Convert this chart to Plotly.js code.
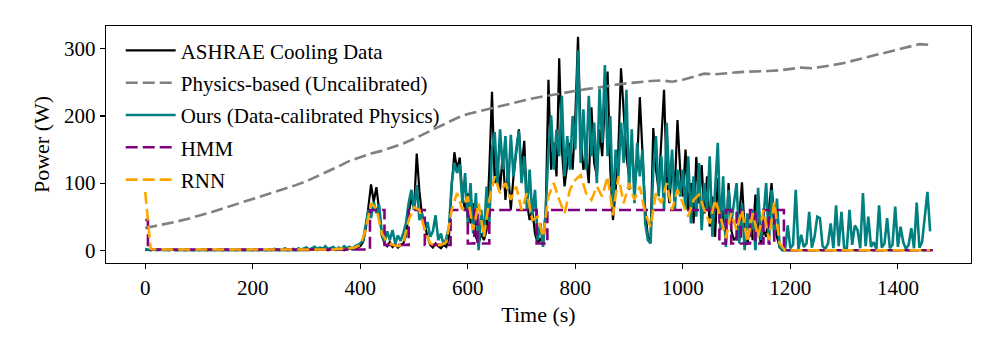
<!DOCTYPE html>
<html>
<head>
<meta charset="utf-8">
<script src="https://cdn.plot.ly/plotly-3.0.1.min.js"></script>
<style>
  html, body { margin: 0; padding: 0; background: #fff; }
  #chart { width: 996px; height: 356px; }
</style>
</head>
<body>
<div id="chart"></div>
<script>
// sampling steps of the series (seconds)
const DT_FINE = 5;
const DT_RNN = 10;
const DT_PHYS = 20;

// ASHRAE cooling data, one value every 5 s
const ashrae = [
  1,0,0,1,0,0,1,0,0,0,1,0,0,0,1,0,0,0,0,1,
  0,0,1,0,0,0,1,0,0,0,0,1,0,0,0,1,0,0,0,1,
  0,0,1,0,0,1,0,0,0,1,0,0,1,0,0,0,1,0,0,1,
  1,0,2,1,0,1,3,1,0,2,1,0,1,2,0,1,3,1,2,4,
  6,12,30,62,98,72,94,60,22,10,6,12,5,9,4,8,10,22,55,78,
  62,144,88,50,38,20,8,4,10,6,3,8,5,20,95,146,120,138,80,60,
  85,40,70,20,10,25,15,30,120,236,100,130,90,145,75,120,60,110,150,180,
  120,163,70,45,60,25,10,18,8,60,254,120,160,110,286,150,95,130,160,120,
  200,318,170,120,140,100,213,130,110,180,140,220,266,120,45,90,150,271,200,140,
  110,160,90,130,228,140,60,20,15,182,120,90,160,239,110,70,130,90,194,120,
  80,150,60,100,40,139,70,127,55,110,35,80,20,107,40,60,10,100,30,15,
  20,50,101,30,8,40,15,83,35,10,30,20,60,100,45,20,5,0,0,0,
  0,0,0,0,0,0,0,0,0,0,0,0,0,0,0,0,0,0,0,0,
  0,0,0,0,0,0,0,0,0,0,0,0,0,0,0,0,0,0,0,0,
  0,0,0,0,0,0,0,0,0,0,0,0,0
];

// Ours (data-calibrated physics), every 5 s
const ours = [
  2,1,0,1,0,1,0,0,1,0,1,0,0,1,0,0,1,0,0,1,
  0,1,0,0,1,0,0,1,0,0,1,0,1,0,0,1,0,0,1,0,
  0,1,0,1,0,0,1,0,2,1,0,1,3,0,1,2,0,3,1,2,
  4,1,3,5,2,4,1,6,2,3,5,1,4,2,6,3,5,2,6,8,
  10,14,35,60,48,72,55,68,25,12,28,15,30,10,22,14,25,40,70,90,
  60,97,45,55,30,42,20,28,52,15,25,8,18,35,100,130,115,128,70,115,
  40,100,25,85,0,60,20,95,40,150,176,100,180,120,170,90,172,110,150,178,
  100,140,60,120,50,90,15,40,5,60,150,201,120,180,140,230,110,170,120,200,
  150,298,130,210,120,230,140,190,100,240,160,276,140,200,60,150,110,190,130,239,
  90,180,70,160,110,150,40,15,10,120,170,80,140,60,190,90,150,60,120,80,
  120,60,140,40,110,50,130,30,100,60,140,20,90,160,30,110,5,90,40,70,
  100,10,70,0,55,20,60,0,93,15,50,100,10,90,20,77,5,0,0,37,
  3,8,90,2,23,5,10,57,4,20,50,48,6,2,10,40,3,67,6,57,
  4,2,60,8,37,30,3,85,6,50,5,12,2,67,4,10,48,3,8,65,
  5,35,12,2,8,33,3,71,4,12,55,87,28
];

// RNN, every 10 s
const rnn = [
  87,2,1,1,1,1,0,1,1,1,1,1,1,1,1,1,1,1,1,1,
  1,1,1,1,1,1,1,1,1,1,1,1,1,1,1,1,2,2,3,4,
  8,30,70,62,25,12,8,6,10,45,64,60,30,10,7,8,12,60,85,60,
  80,30,70,20,75,110,85,100,75,95,60,85,45,50,20,80,100,75,55,90,
  105,112,85,75,95,80,110,52,110,70,100,75,95,55,35,85,70,100,60,90,
  70,50,75,83,60,40,75,50,18,55,30,60,12,55,20,60,15,72,10,0,
  0,0,0,0,0,0,0,0,0,0,0,0,0,0,0,0,0,0,0,0,
  0,0,0,0,0,0,0
];

// Physics-based (uncalibrated), every 20 s
const physics = [
  33,36,39,43,47,51,56,61,66,71,
  76,81,87,92,97,103,110,117,125,133,
  139,144,148,153,159,166,174,182,190,197,
  203,207,211,215,219,223,226,229,232,235,
  238,240,242,245,247,249,251,252,253,251,
  254,258,263,262,264,265,266,266,267,268,
  270,272,271,273,276,279,283,287,291,295,
  299,303,307,306
];

// HMM state levels (step changes)
const hmmTime  = [0, 5, 418, 445, 490, 520, 568, 600, 612, 618, 640, 728, 748, 1068, 1080, 1090, 1100, 1108, 1125, 1135, 1150, 1160, 1170, 1188, 1465];
const hmmPower = [45, 1, 60, 8, 60, 8, 60, 10, 60, 10, 60, 10, 60, 10, 60, 10, 60, 10, 60, 10, 60, 10, 60, 0, 0];

const timeOf = (arr, dt) => arr.map((_, i) => i * dt);

const font = 'Liberation Serif, Times New Roman, serif';
const dashed = '12px,5px';

const traces = [
  {
    x: timeOf(ashrae, DT_FINE), y: ashrae, type: 'scatter', mode: 'lines',
    name: 'ASHRAE Cooling Data', legendgroup: 'a',
    line: { color: '#000000', width: 2.2 }
  },
  {
    x: timeOf(physics, DT_PHYS), y: physics, type: 'scatter', mode: 'lines',
    name: 'Physics-based (Uncalibrated)', legendgroup: 'b',
    line: { color: '#808080', width: 2.6, dash: dashed }
  },
  {
    x: timeOf(ours, DT_FINE), y: ours, type: 'scatter', mode: 'lines',
    name: 'Ours (Data-calibrated Physics)', legendgroup: 'c',
    line: { color: '#008080', width: 2.6 }
  },
  {
    x: hmmTime, y: hmmPower, type: 'scatter', mode: 'lines',
    name: 'HMM', legendgroup: 'd',
    line: { color: '#800080', width: 2.6, dash: dashed, shape: 'hv' }
  },
  {
    x: timeOf(rnn, DT_RNN), y: rnn, type: 'scatter', mode: 'lines',
    name: 'RNN', legendgroup: 'e',
    line: { color: '#FFA500', width: 2.6, dash: dashed }
  }
];

const layout = {
  width: 996,
  height: 356,
  margin: { l: 106, r: 25, t: 26, b: 93, pad: 0 },
  paper_bgcolor: '#ffffff',
  plot_bgcolor: '#ffffff',
  font: { family: font, size: 21, color: '#000000' },
  showlegend: true,
  legend: {
    x: 0.017, y: 0.982, xanchor: 'left', yanchor: 'top',
    bgcolor: 'rgba(0,0,0,0)', borderwidth: 0,
    font: { family: font, size: 21 },
    traceorder: 'grouped', tracegroupgap: 2,
    itemwidth: 50
  },
  xaxis: {
    range: [-73, 1536],
    tickvals: [0, 200, 400, 600, 800, 1000, 1200, 1400],
    ticks: 'outside', ticklen: 5, tickwidth: 1.2, tickcolor: '#000',
    showline: true, linecolor: '#000', linewidth: 1.3, mirror: true,
    showgrid: false, zeroline: false,
    tickfont: { family: font, size: 21 },
    title: { text: 'Time (s)', font: { family: font, size: 22 }, standoff: 8 }
  },
  yaxis: {
    range: [-19, 334],
    tickvals: [0, 100, 200, 300],
    ticks: 'outside', ticklen: 5, tickwidth: 1.2, tickcolor: '#000',
    showline: true, linecolor: '#000', linewidth: 1.3, mirror: true,
    showgrid: false, zeroline: false,
    tickfont: { family: font, size: 21 },
    title: { text: 'Power (W)', font: { family: font, size: 22 }, standoff: 8 }
  },
  hovermode: false
};

Plotly.newPlot('chart', traces, layout, { staticPlot: true, displayModeBar: false });
</script>
</body>
</html>
